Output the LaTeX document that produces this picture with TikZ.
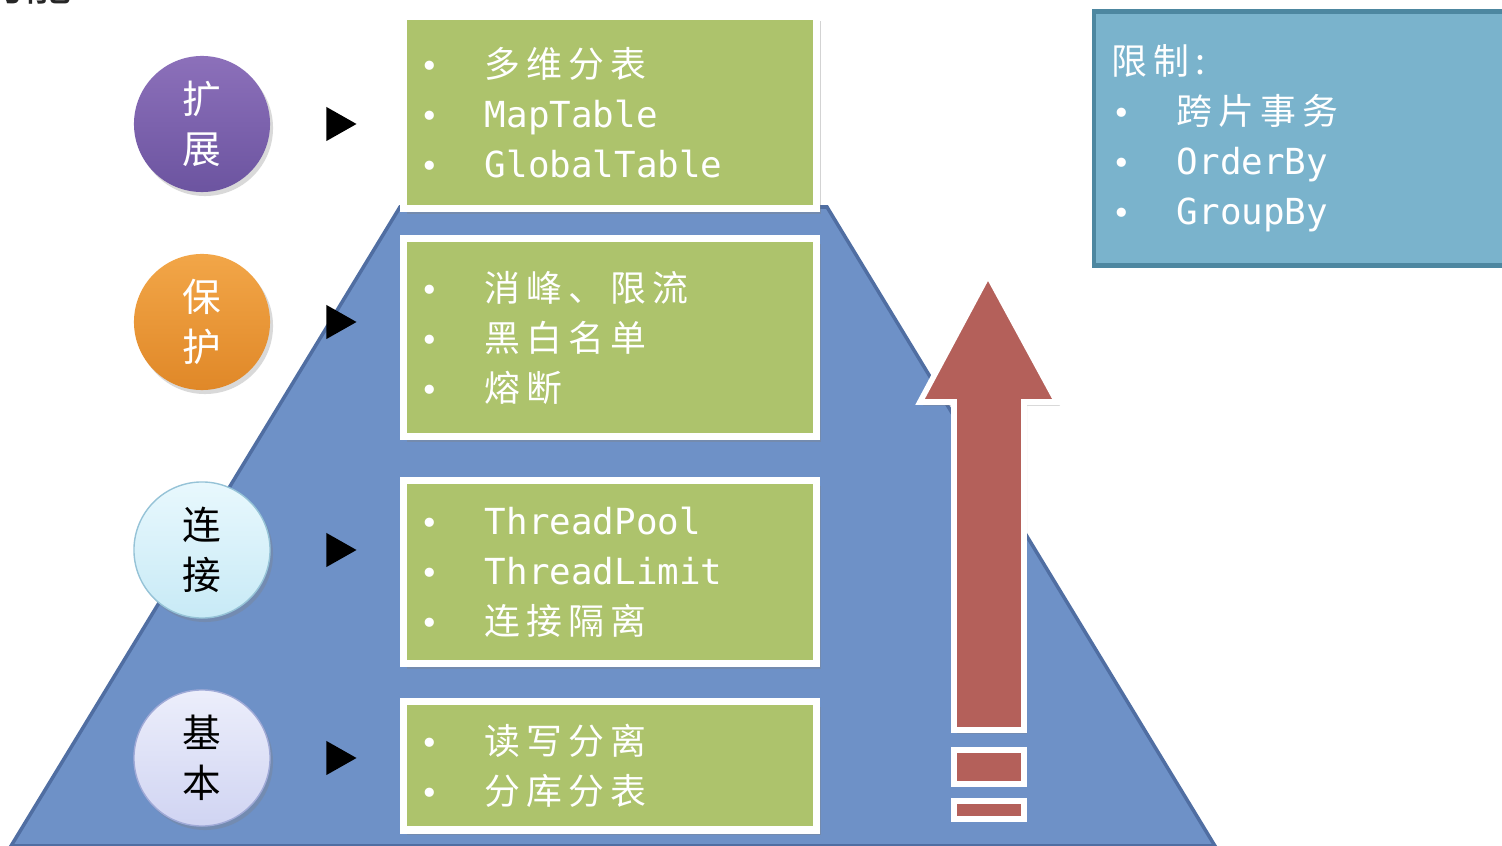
\documentclass[tikz,border=0pt]{standalone}
\usepackage{fontspec}
\setmainfont{DejaVu Sans Mono}
\newfontfamily\cn[LetterSpace=17]{Noto Sans CJK SC}
\newfontfamily\cnc{Noto Sans CJK SC}
\usepackage{tikz}
\usetikzlibrary{positioning,shapes,shadows}
\definecolor{pyramid}{RGB}{110,145,199}
\definecolor{pyramidedge}{RGB}{80,110,162}
\definecolor{leaf}{RGB}{173,195,108}
\definecolor{rust}{RGB}{180,96,90}
\definecolor{sky}{RGB}{122,179,204}
\definecolor{skyedge}{RGB}{77,135,160}
\newcommand{\itm}[1]{\makebox[0.65cm][l]{\fontsize{9pt}{14.2pt}\selectfont •}{#1}}

\begin{document}
\begin{tikzpicture}[x=0.01cm,y=-0.01cm,
font=\fontsize{10.2pt}{14.2pt}\selectfont]
\tikzstyle{level}=[rectangle,fill=leaf,draw=white,line width=2pt,text=white,inner sep=0pt,
  minimum width=4.13cm,text width=3.8cm,align=left,
  drop shadow={opacity=0.35,shadow xshift=0.04cm,shadow yshift=-0.05cm}]
\tikzstyle{badge}=[circle,minimum size=1.36cm,inner sep=0pt,align=center,
  font=\fontsize{11pt}{14.2pt}\cnc,
  drop shadow={opacity=0.3,shadow xshift=0.03cm,shadow yshift=-0.04cm}]
\tikzstyle{pointer}=[isosceles triangle,isosceles triangle stretches,fill=black,inner sep=0pt,
  minimum width=0.34cm,minimum height=0.3cm]
\tikzstyle{note}=[rectangle,fill=sky,draw=skyedge,line width=1.2pt,text=white,inner sep=0pt,
  minimum width=4.2cm,minimum height=2.54cm,text width=3.84cm,align=left]

\useasboundingbox (0,0) rectangle (1502,846);

% pyramid
\filldraw[fill=pyramid,draw=pyramidedge,line width=1pt] (400,207) -- (827,207) -- (1215,846) -- (11,846) -- cycle;

% levels
\node[level,minimum height=1.92cm] (ext) at (610,112.5) {\itm{\cn 多维分表}\\ \itm{MapTable}\\ \itm{GlobalTable}};
\node[level,minimum height=1.98cm] (prot) [below=0.23cm of ext] {\itm{\cn 消峰、限流}\\ \itm{\cn 黑白名单}\\ \itm{\cn 熔断}};
\node[level,minimum height=1.83cm] (conn) [below=0.37cm of prot] {\itm{ThreadPool}\\ \itm{ThreadLimit}\\ \itm{\cn 连接隔离}};
\node[level,minimum height=1.28cm] (base) [below=0.31cm of conn] {\itm{\cn 读写分离}\\ \itm{\cn 分库分表}};

% badges
\node[badge,top color={rgb,255:red,140;green,112;blue,186},bottom color={rgb,255:red,108;green,84;blue,160},text=white] (c1) at (202,124) {扩\\展};
\node[badge,top color={rgb,255:red,242;green,166;blue,72},bottom color={rgb,255:red,224;green,136;blue,40},text=white] (c2) at (202,322) {保\\护};
\node[badge,draw={rgb,255:red,150;green,195;blue,215},top color={rgb,255:red,232;green,248;blue,253},bottom color={rgb,255:red,200;green,234;blue,246},text=black] (c3) at (202,550) {连\\接};
\node[badge,draw={rgb,255:red,160;green,170;blue,215},top color={rgb,255:red,236;green,238;blue,251},bottom color={rgb,255:red,208;green,212;blue,242},text=black] (c4) at (202,758) {基\\本};

\node[pointer] (p1) [right=0.55cm of c1] {};
\node[pointer] (p2) [right=0.55cm of c2] {};
\node[pointer] (p3) [right=0.55cm of c3] {};
\node[pointer] (p4) [right=0.55cm of c4] {};

% growth arrow
\filldraw[fill=rust,draw=white,line width=1.6pt,drop shadow={opacity=0.3,shadow xshift=0.03cm,shadow yshift=-0.04cm}]
  (954,730) -- (954,402) -- (920,402) -- (988,275) -- (1057,402) -- (1024,402) -- (1024,730) -- cycle;
\filldraw[fill=rust,draw=white,line width=1.6pt] (954,750) rectangle (1024,784);
\filldraw[fill=rust,draw=white,line width=1.6pt] (954,801) rectangle (1024,819);

% limits
\node[note] (lim) at (1304,138.5) {{\cn 限制:}\\ \itm{\cn 跨片事务}\\ \itm{OrderBy}\\ \itm{GroupBy}};

% title (cut off)
\node[anchor=base west,inner sep=0pt,font=\fontsize{13.6pt}{16pt}\cnc,text=black!85] (title) at (-24,1) {功能};
\end{tikzpicture}
\end{document}
